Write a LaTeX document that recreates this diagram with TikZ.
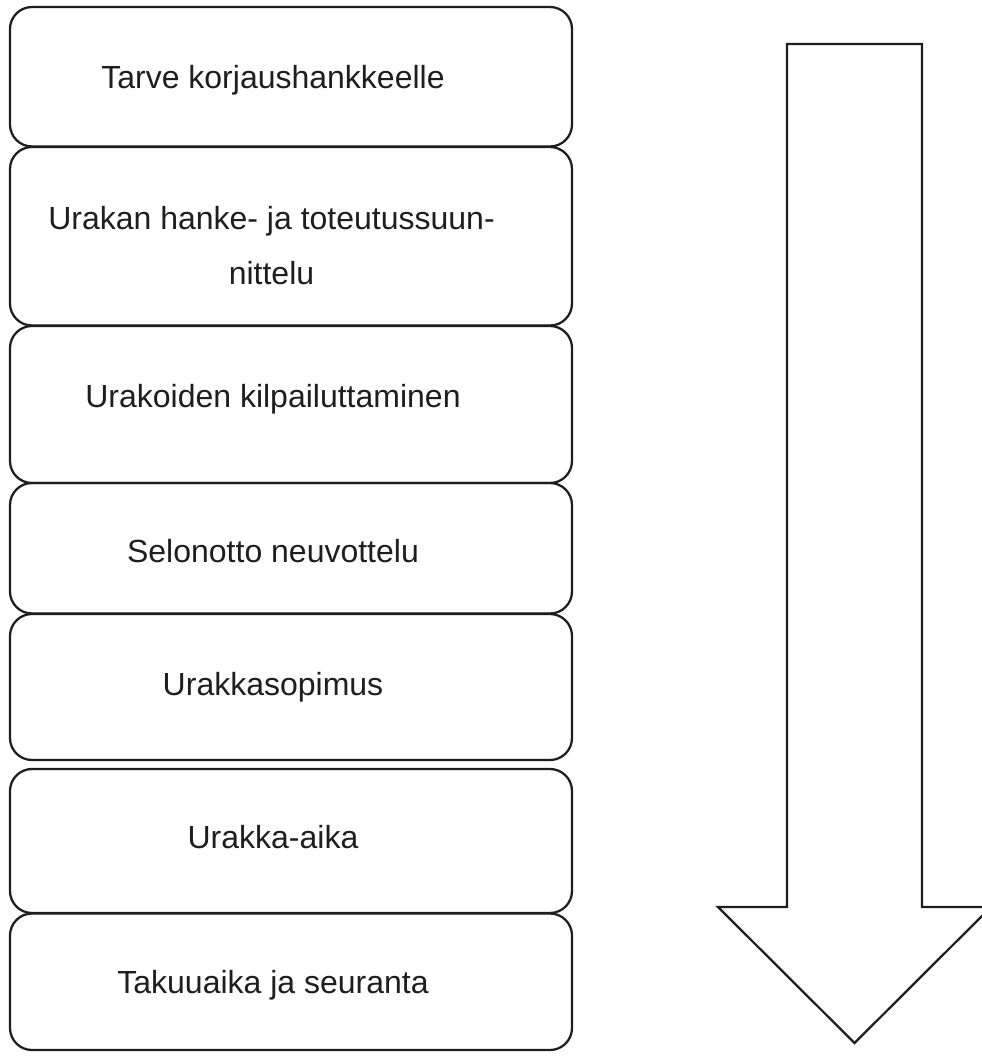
\documentclass[tikz,border=0pt]{standalone}
\usepackage{fontspec}
\setmainfont{Liberation Sans}
\usepackage{tikz}
\definecolor{StageLine}{HTML}{1E1E1E}
\newcommand{\stagefont}{\fontsize{24}{28}\selectfont}
\tikzset{
  stagebox/.style={draw=StageLine, line width=1.7pt, rounded corners=16.5pt,
    minimum width=421.5pt, inner sep=0pt},
  stagetext/.style={anchor=base, font=\stagefont, text=StageLine},
  flowarrow/.style={draw=StageLine, line width=1.7pt, line join=miter}
}

\begin{document}
\begin{tikzpicture}[x=0.75pt,y=-0.75pt]
  \useasboundingbox (0,0) rectangle (982,1057);
  % stage boxes
  \foreach \n/\ya/\yb in {1/7/146.5,2/147/325.5,3/326/483,4/483/613.5,
                         5/614/760,6/769/913,7/913.5/1050} {
    \node[stagebox, minimum height={(\yb-\ya)*0.75pt}] (box\n) at (291,{(\ya+\yb)/2}) {};
  }
  \node[stagetext] (lab1) at (273,88) {Tarve korjaushankkeelle};
  \node[stagetext] (lab2a) at (271.5,229) {Urakan hanke- ja toteutussuun-};
  \node[stagetext] (lab2b) at (271.5,284) {nittelu};
  \node[stagetext] (lab3) at (273,407) {Urakoiden kilpailuttaminen};
  \node[stagetext] (lab4) at (273,562) {Selonotto neuvottelu};
  \node[stagetext] (lab5) at (273,695) {Urakkasopimus};
  \node[stagetext] (lab6) at (273,848) {Urakka-aika};
  \node[stagetext] (lab7) at (273,993) {Takuuaika ja seuranta};
  % big arrow
  \draw[flowarrow] (787,44) -- (922,44) -- (922,907) -- (991,907)
    -- (854.5,1043) -- (718,907) -- (787,907) -- cycle;
\end{tikzpicture}
\end{document}
